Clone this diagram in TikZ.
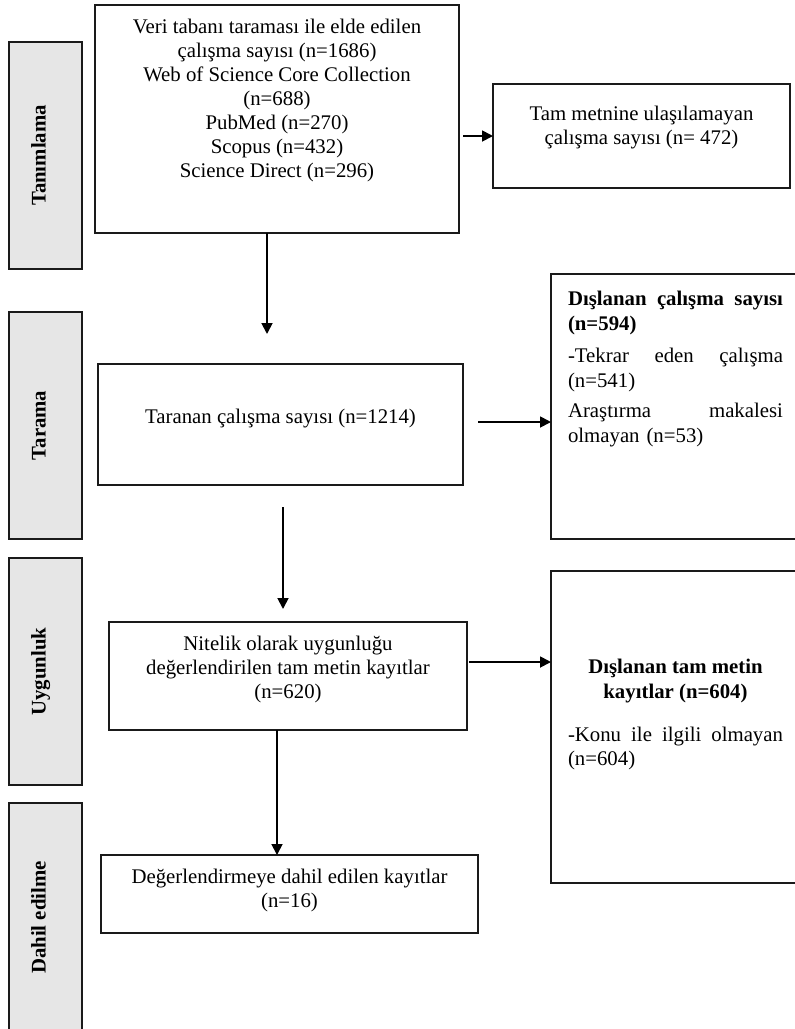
\documentclass[tikz,border=0pt]{standalone}
\usepackage{fontspec}
\setmainfont{Liberation Serif}
\usetikzlibrary{arrows.meta}
\definecolor{sidegray}{HTML}{E6E6E6}
\definecolor{edge}{HTML}{1A1A1A}
\begin{document}
\begin{tikzpicture}[x=1pt,y=-1pt,
  box/.style={draw=edge,line width=1.8pt,fill=white,inner sep=0,outer sep=0},
  side/.style={draw=edge,line width=1.8pt,fill=sidegray,inner sep=0,outer sep=0},
  txt/.style={inner sep=0,outer sep=0,font=\fontsize{20.8}{24}\selectfont,align=center},
  rtxt/.style={inner sep=0,outer sep=0,font=\fontsize{20.8}{25}\selectfont,align=left,text width=215pt},
  sidelbl/.style={inner sep=0,rotate=90,anchor=base,font=\fontsize{20.8}{24}\selectfont\bfseries},
  arr/.style={draw=black,line width=1.8pt,-{Triangle[length=11pt,width=11pt]}},
  ln/.style={draw=black,line width=1.8pt}]
\useasboundingbox (0,0) rectangle (795,1029);
\clip (0,0) rectangle (795,1029);
\fill[white] (0,0) rectangle (795,1029);

% side boxes
\node[side,minimum width=73pt,minimum height=227pt] (s1) at (45.5,155.5) {};
\node[side,minimum width=73pt,minimum height=227pt] (s2) at (45.5,425.5) {};
\node[side,minimum width=73pt,minimum height=227pt] (s3) at (45.5,671.5) {};
\node[side,minimum width=73pt,minimum height=230pt] (s4) at (45.5,918) {};
\node[sidelbl] (l1) at (45.5,155.5) {Tanımlama};
\node[sidelbl] (l2) at (45.5,425.5) {Tarama};
\node[sidelbl] (l3) at (45.5,671.5) {Uygunluk};
\node[sidelbl] (l4) at (45.5,917.5) {Dahil edilme};

% main boxes
\node[box,minimum width=364pt,minimum height=228pt] (b1) at (277,119) {};
\node[box,minimum width=365pt,minimum height=121pt] (b2) at (280.5,424.5) {};
\node[box,minimum width=358pt,minimum height=108pt] (b3) at (288,676) {};
\node[box,minimum width=377pt,minimum height=78pt] (b4) at (289.5,894) {};

% right boxes
\node[box,minimum width=297pt,minimum height=104pt] (r1) at (641.5,136) {};
\node[box,minimum width=279pt,minimum height=265pt] (r2) at (690.5,406.5) {};
\node[box,minimum width=279pt,minimum height=312pt] (r3) at (690.5,727) {};

% texts
\node[txt,anchor=north] (t1) at (277,16.2) {\strut Veri tabanı taraması ile elde edilen\\çalışma sayısı (n=1686)\\Web of Science Core Collection\\(n=688)\\PubMed (n=270)\\Scopus (n=432)\\Science Direct (n=296)};
\node[txt,anchor=base] (t2) at (280.5,423) {Taranan çalışma sayısı (n=1214)};
\node[txt,anchor=north] (t3) at (288,633.2) {\strut Nitelik olarak uygunluğu\\değerlendirilen tam metin kayıtlar\\(n=620)};
\node[txt,anchor=north] (t4) at (289.5,866.2) {\strut Değerlendirmeye dahil edilen kayıtlar\\(n=16)};
\node[txt,anchor=north] (tr1) at (641.5,103.2) {\strut Tam metnine ulaşılamayan\\çalışma sayısı (n= 472)};
\node[rtxt,anchor=north west] (tr2) at (568,287.5) {\strut\textbf{Dışlanan\hfill çalışma\hfill sayısı}\\\textbf{(n=594)}\\[7pt]-Tekrar\hfill eden\hfill çalışma\\(n=541)\\[5pt]Araştırma\hfill makalesi\\olmayan (n=53)};
\node[txt,anchor=north,font=\fontsize{20.8}{25}\selectfont\bfseries] (tr3a) at (675.5,655.5) {\strut Dışlanan tam metin\\kayıtlar (n=604)};
\node[rtxt,anchor=north west,font=\fontsize{20.8}{23.5}\selectfont] (tr3b) at (568,725.5) {\strut-Konu\hfill ile\hfill ilgili\hfill olmayan\\(n=604)};

% connector coordinates
\coordinate (a1s) at (267,233);
\coordinate (a1e) at (267,334);
\coordinate (a2s) at (283,507);
\coordinate (a2e) at (283,609);
\coordinate (a3s) at (277,730);
\coordinate (ar1s) at (463,136);
\coordinate (ar2s) at (478,422);
\coordinate (ar3s) at (469,662);

\draw[arr] (a1s) -- (a1e);
\draw[arr] (a2s) -- (a2e);
\draw[arr] (a3s) -- (a3s |- b4.north);
\draw[arr] (ar1s) -- (ar1s -| r1.west);
\draw[arr] (ar2s) -- (ar2s -| r2.west);
\draw[arr] (ar3s) -- (ar3s -| r3.west);
\end{tikzpicture}
\end{document}
